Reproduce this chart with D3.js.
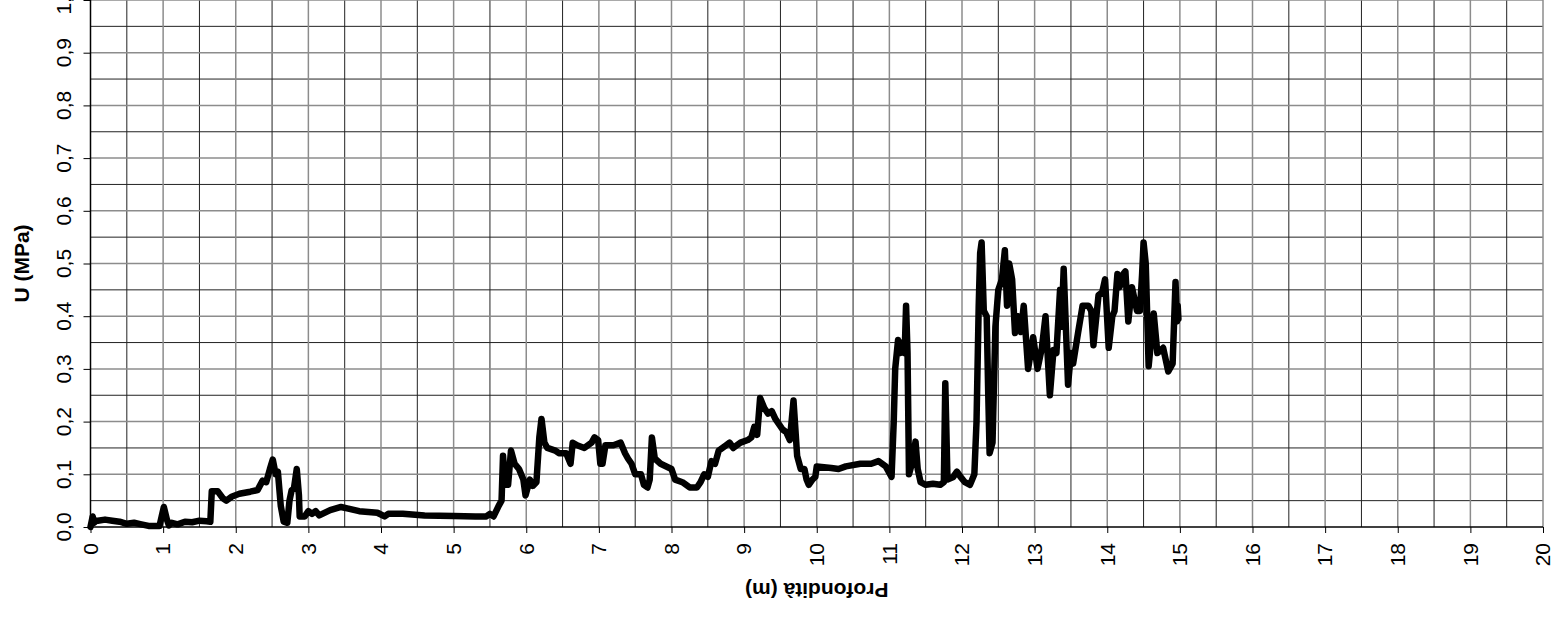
<!DOCTYPE html>
<html>
<head>
<meta charset="utf-8">
<script src="https://cdn.jsdelivr.net/npm/d3@7"></script>
<style>
  body { margin: 0; background: #fff; }
  text { font-family: "Liberation Sans", Arial, sans-serif; }
</style>
</head>
<body>
<svg></svg>
<script>
// chart data: depth (m) vs U (MPa)
const depth = [0, 0.03, 0.05, 0.08, 0.1, 0.2, 0.3, 0.4, 0.5, 0.6, 0.7, 0.8, 0.95, 0.98, 1.01, 1.05, 1.08, 1.12, 1.2, 1.3, 1.4, 1.5, 1.6, 1.65,
  1.67, 1.75, 1.82, 1.87, 1.95, 2.05, 2.2, 2.3, 2.37, 2.42, 2.47, 2.51, 2.55, 2.58, 2.62, 2.66, 2.71, 2.74, 2.77, 2.8, 2.84, 2.87, 2.88,
  2.95, 3.0, 3.05, 3.1, 3.15, 3.3, 3.45, 3.55, 3.7, 3.95, 4.05, 4.1, 4.3, 4.6, 5.0, 5.3, 5.45, 5.5, 5.55, 5.62, 5.66, 5.68, 5.71, 5.75,
  5.79, 5.84, 5.9, 5.96, 5.99, 6.02, 6.05, 6.09, 6.14, 6.18, 6.21, 6.25, 6.29, 6.4, 6.45, 6.55, 6.61, 6.64, 6.7, 6.8, 6.9, 6.94, 6.99, 7.02,
  7.05, 7.09, 7.2, 7.3, 7.36, 7.4, 7.45, 7.5, 7.58, 7.62, 7.67, 7.7, 7.73, 7.77, 7.85, 8.0, 8.05, 8.15, 8.25, 8.35, 8.4, 8.45, 8.5,
  8.55, 8.6, 8.65, 8.75, 8.8, 8.85, 8.95, 9.05, 9.1, 9.14, 9.18, 9.22, 9.28, 9.33, 9.38, 9.43, 9.53, 9.58, 9.63, 9.68, 9.73, 9.78, 9.83,
  9.86, 9.89, 9.94, 9.98, 10.0, 10.2, 10.3, 10.4, 10.6, 10.75, 10.85, 10.95, 11.03, 11.06, 11.08, 11.12, 11.15, 11.18, 11.21,
  11.23, 11.25, 11.27, 11.31, 11.36, 11.39, 11.43, 11.5, 11.6, 11.7, 11.75, 11.77, 11.8, 11.88, 11.93, 11.98, 12.04, 12.11, 12.17,
  12.2, 12.23, 12.25, 12.27, 12.3, 12.34, 12.36, 12.38, 12.42, 12.46, 12.5, 12.55, 12.59, 12.62, 12.65, 12.69, 12.73, 12.77, 12.81,
  12.85, 12.91, 12.98, 13.04, 13.1, 13.15, 13.21, 13.26, 13.3, 13.35, 13.37, 13.4, 13.46, 13.5, 13.53, 13.6, 13.66, 13.74, 13.78,
  13.81, 13.88, 13.93, 13.97, 14.02, 14.07, 14.1, 14.14, 14.17, 14.22, 14.25, 14.29, 14.34, 14.41, 14.45, 14.48, 14.5, 14.53, 14.57,
  14.64, 14.69, 14.77, 14.84, 14.9, 14.94, 14.96, 14.97, 14.98];
const uValues = [0, 0.02, 0.008, 0.012, 0.012, 0.014, 0.012, 0.01, 0.006, 0.008, 0.005, 0.002, 0.002, 0.02, 0.038, 0.015, 0.003, 0.008, 0.005, 0.01, 0.009, 0.012, 0.011, 0.01,
  0.068, 0.068, 0.055, 0.05, 0.058, 0.063, 0.067, 0.07, 0.088, 0.085, 0.11, 0.128, 0.1, 0.105, 0.04, 0.01, 0.008, 0.05, 0.07, 0.072, 0.11, 0.06, 0.02,
  0.02, 0.03, 0.025, 0.03, 0.022, 0.032, 0.038, 0.035, 0.03, 0.027, 0.02, 0.025, 0.025, 0.022, 0.021, 0.02, 0.02, 0.025, 0.02, 0.04, 0.05, 0.135, 0.08, 0.08,
  0.145, 0.12, 0.11, 0.09, 0.06, 0.075, 0.09, 0.078, 0.085, 0.17, 0.205, 0.16, 0.15, 0.145, 0.14, 0.14, 0.12, 0.16, 0.155, 0.15, 0.16, 0.17, 0.165, 0.12,
  0.12, 0.155, 0.155, 0.16, 0.14, 0.13, 0.12, 0.1, 0.1, 0.08, 0.075, 0.09, 0.17, 0.13, 0.12, 0.11, 0.09, 0.085, 0.075, 0.075, 0.085, 0.1, 0.095,
  0.125, 0.12, 0.145, 0.155, 0.16, 0.15, 0.16, 0.165, 0.17, 0.19, 0.175, 0.245, 0.225, 0.215, 0.22, 0.205, 0.185, 0.18, 0.165, 0.24, 0.135, 0.11, 0.11,
  0.09, 0.08, 0.09, 0.095, 0.115, 0.112, 0.11, 0.115, 0.12, 0.12, 0.125, 0.115, 0.095, 0.2, 0.3, 0.355, 0.33, 0.35, 0.33,
  0.42, 0.33, 0.1, 0.12, 0.162, 0.11, 0.085, 0.08, 0.082, 0.08, 0.085, 0.273, 0.09, 0.095, 0.105, 0.095, 0.085, 0.08, 0.1,
  0.2, 0.42, 0.52, 0.54, 0.41, 0.4, 0.26, 0.14, 0.16, 0.38, 0.45, 0.47, 0.525, 0.42, 0.5, 0.47, 0.368, 0.4, 0.37,
  0.42, 0.3, 0.36, 0.3, 0.34, 0.4, 0.25, 0.336, 0.33, 0.45, 0.38, 0.49, 0.27, 0.33, 0.31, 0.37, 0.42, 0.42, 0.41,
  0.345, 0.44, 0.445, 0.47, 0.34, 0.4, 0.41, 0.48, 0.455, 0.48, 0.485, 0.39, 0.455, 0.41, 0.41, 0.48, 0.54, 0.5, 0.305,
  0.405, 0.33, 0.34, 0.295, 0.31, 0.465, 0.39, 0.42, 0.395];
const xTicks = d3.range(0, 21, 1);
const yTicks = [0, 0.1, 0.2, 0.3, 0.4, 0.5, 0.6, 0.7, 0.8, 0.9, 1.0];
const xTitle = 'Profondità (m)';
const yTitle = 'U (MPa)';

const width = 1551;
const height = 617;
const plotLeft = 90.5;
const plotRight = 1543;
const plotTop = 0;
const plotBottom = 527;

let svg = d3.select('svg').attr('width', width).attr('height', height);

let xScale = d3.scaleLinear().domain([0, 20]).range([plotLeft, plotRight]);
let yScale = d3.scaleLinear().domain([0, 1]).range([plotBottom, plotTop]);

// minor grid (dark, thin) then major grid (grey)
let minorX = d3.range(0.5, 20, 1);
let minorY = d3.range(0.05, 1, 0.1);

let grid = svg.append('g');
grid.selectAll('.vminor').data(minorX).enter().append('line')
  .attr('x1', d => xScale(d)).attr('x2', d => xScale(d))
  .attr('y1', yScale(1)).attr('y2', yScale(0))
  .attr('stroke', '#222').attr('stroke-width', 1);
grid.selectAll('.hminor').data(minorY).enter().append('line')
  .attr('y1', d => yScale(d)).attr('y2', d => yScale(d))
  .attr('x1', xScale(0)).attr('x2', xScale(20))
  .attr('stroke', '#222').attr('stroke-width', 1);
grid.selectAll('.vmajor').data(xTicks.slice(1)).enter().append('line')
  .attr('x1', d => xScale(d)).attr('x2', d => xScale(d))
  .attr('y1', yScale(1)).attr('y2', yScale(0))
  .attr('stroke', '#8c8c8c').attr('stroke-width', 1.5);
grid.selectAll('.hmajor').data(yTicks.slice(1)).enter().append('line')
  .attr('y1', d => yScale(d)).attr('y2', d => yScale(d))
  .attr('x1', xScale(0)).attr('x2', xScale(20))
  .attr('stroke', '#8c8c8c').attr('stroke-width', 1.5);

// axes
let xAxis = d3.axisBottom(xScale).tickValues(xTicks).tickSize(6).tickFormat('');
let yAxis = d3.axisLeft(yScale).tickValues(yTicks).tickSize(7).tickFormat('');

let gx = svg.append('g')
  .attr('transform', 'translate(0,' + plotBottom + ')')
  .call(xAxis);
gx.select('.domain').remove();
gx.selectAll('.tick line').attr('stroke', '#000').attr('stroke-width', 1);

let gy = svg.append('g')
  .attr('transform', 'translate(' + plotLeft + ',0)')
  .call(yAxis);
gy.select('.domain').remove();
gy.selectAll('.tick line').attr('stroke', '#000').attr('stroke-width', 1);

svg.append('line')
  .attr('x1', plotLeft).attr('x2', plotRight).attr('y1', plotBottom).attr('y2', plotBottom)
  .attr('stroke', '#000').attr('stroke-width', 1.5);
svg.append('line')
  .attr('x1', plotLeft).attr('x2', plotLeft).attr('y1', yScale(1)).attr('y2', plotBottom)
  .attr('stroke', '#000').attr('stroke-width', 1.5);

// tick labels
svg.selectAll('.xlab').data(xTicks).enter().append('text')
  .attr('transform', d => 'translate(' + xScale(d) + ',543) rotate(-90)')
  .attr('text-anchor', 'end')
  .attr('dy', '0.35em')
  .attr('font-size', 21)
  .text(d => d);

svg.selectAll('.ylab').data(yTicks).enter().append('text')
  .attr('transform', d => 'translate(63.5,' + yScale(d) + ') rotate(-90)')
  .attr('text-anchor', 'middle')
  .attr('dy', '0.35em')
  .attr('font-size', 21)
  .text(d => d3.format('.1f')(d).replace('.', ','));

// titles
svg.append('text')
  .attr('transform', 'translate(' + ((plotLeft + plotRight) / 2) + ',590) rotate(180)')
  .attr('text-anchor', 'middle')
  .attr('dy', '0.35em')
  .attr('font-size', 21)
  .attr('font-weight', 'bold')
  .text(xTitle);

svg.append('text')
  .attr('transform', 'translate(22,' + ((plotTop + plotBottom) / 2) + ') rotate(-90)')
  .attr('text-anchor', 'middle')
  .attr('dy', '0.35em')
  .attr('font-size', 21)
  .attr('font-weight', 'bold')
  .text(yTitle);

// series
let line = d3.line()
  .x((d, i) => xScale(depth[i]))
  .y((d, i) => yScale(uValues[i]));

svg.append('path')
  .datum(uValues)
  .attr('fill', 'none')
  .attr('stroke', '#000')
  .attr('stroke-width', 6.5)
  .attr('stroke-linejoin', 'round')
  .attr('stroke-linecap', 'round')
  .attr('d', line);
</script>
</body>
</html>
